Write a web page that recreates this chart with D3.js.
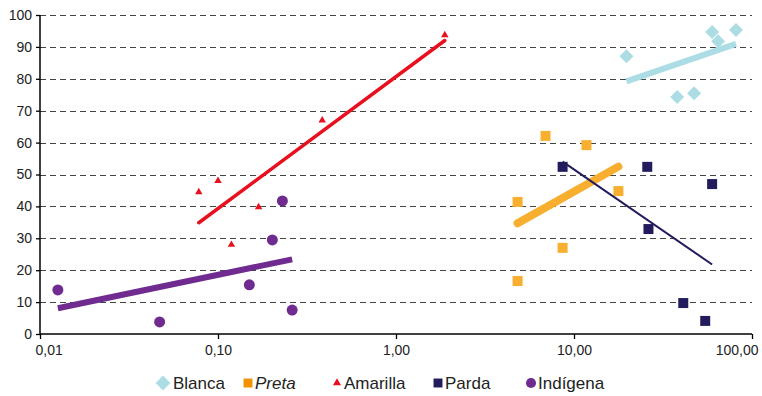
<!DOCTYPE html>
<html>
<head>
<meta charset="utf-8">
<script src="https://d3js.org/d3.v7.min.js"></script>
<style>
  body { margin: 0; background: #fff; }
  text { font-family: "Liberation Sans", Arial, sans-serif; fill: #222; }
</style>
</head>
<body>
<div id="chart"></div>
<script>
// Width and height of the canvas
var w = 762, h = 396;
var margin = {top: 15, right: 10, bottom: 62, left: 40};
var width = w - margin.left - margin.right;
var height = h - margin.top - margin.bottom;

// data: x on log scale, y in percent
var blancaX = [19.7, 38.0, 47.3, 59.7, 64.5, 81.3];
var blancaY = [87.1, 74.3, 75.5, 94.7, 91.8, 95.3];
var pretaX = [4.82, 4.82, 6.92, 8.63, 11.75, 17.76];
var pretaY = [41.4, 16.6, 62.1, 27.0, 59.2, 44.8];
var amarillaX = [0.078, 0.100, 0.119, 0.169, 0.385, 1.88];
var amarillaY = [44.5, 48.0, 28.0, 39.8, 67.0, 93.7];
var pardaX = [8.63, 25.8, 26.2, 59.7, 41.1, 54.6];
var pardaY = [52.4, 52.4, 32.9, 47.0, 9.7, 4.1];
var indigenaX = [0.0126, 0.047, 0.150, 0.202, 0.230, 0.261];
var indigenaY = [13.8, 3.8, 15.4, 29.5, 41.7, 7.5];

var xTicks = [0.01, 0.1, 1, 10, 100];
var yTicks = [0, 10, 20, 30, 40, 50, 60, 70, 80, 90, 100];

var series = [
  {name: "Blanca", xs: blancaX, ys: blancaY, color: "#acdde5", legendColor: "#acdde5", symbol: d3.symbolSquare, rot: 45, size: 98, lw: 6, cap: "butt", italic: false},
  {name: "Preta", xs: pretaX, ys: pretaY, color: "#f8ae2f", legendColor: "#f39200", symbol: d3.symbolSquare, rot: 0, size: 100, lw: 8, cap: "round", italic: true},
  {name: "Amarilla", xs: amarillaX, ys: amarillaY, color: "#e8101e", legendColor: "#e8101e", symbol: d3.symbolTriangle, rot: 0, size: 24, lw: 3.5, cap: "round", italic: false},
  {name: "Parda", xs: pardaX, ys: pardaY, color: "#221c5e", legendColor: "#221c5e", symbol: d3.symbolSquare, rot: 0, size: 100, lw: 2, cap: "butt", italic: false},
  {name: "Indígena", xs: indigenaX, ys: indigenaY, color: "#6f2b8f", legendColor: "#6f2b8f", symbol: d3.symbolCircle, rot: 0, size: 95, lw: 6, cap: "butt", italic: false}
];

var xScale = d3.scaleLog().domain([0.01, 100]).range([0, width]);
var yScale = d3.scaleLinear().domain([0, 100]).range([height, 0]);

var svg = d3.select("#chart")
            .append("svg")
            .attr("width", w)
            .attr("height", h)
            .append("g")
            .attr("transform", "translate(" + margin.left + "," + margin.top + ")");

// gridlines
svg.selectAll("line.grid")
    .data(yTicks.slice(1))
    .enter()
    .append("line")
    .attr("class", "grid")
    .attr("x1", 0)
    .attr("x2", width)
    .attr("y1", function(d) { return Math.round(yScale(d)) + 0.5; })
    .attr("y2", function(d) { return Math.round(yScale(d)) + 0.5; })
    .style("stroke", "#444")
    .style("stroke-width", 1)
    .style("stroke-dasharray", "6,4");

// axes
var fmt = function(d) { return d3.format(".2f")(d).replace(".", ","); };
var xAxis = d3.axisBottom(xScale).tickValues(xTicks).tickFormat(fmt).tickSize(5).tickPadding(6);
var yAxis = d3.axisLeft(yScale).tickValues(yTicks).tickSize(4).tickPadding(4);

var gx = svg.append("g").attr("class", "x axis")
    .attr("transform", "translate(0," + height + ")")
    .call(xAxis);
var gy = svg.append("g").attr("class", "y axis").call(yAxis);
[gx, gy].forEach(function(g) {
  g.select(".domain").style("stroke", "#000").style("stroke-width", 1.5);
  g.selectAll(".tick line").style("stroke", "#000").style("stroke-width", 1.3);
  g.selectAll(".tick text").style("font-size", "14px").style("fill", "#222")
    .style("font-family", "'Liberation Sans', Arial, sans-serif");
});
gy.select(".domain").attr("d", "M0," + height + "V0");
gx.select(".domain").attr("d", "M0,0H" + width);
// first and last x labels kept inside the chart
gx.selectAll(".tick text")
    .filter(function(d) { return d === xTicks[0]; })
    .attr("text-anchor", "start").attr("x", -5);
gx.selectAll(".tick text")
    .filter(function(d) { return d === xTicks[xTicks.length - 1]; })
    .attr("text-anchor", "end").attr("x", 6);

// logarithmic trendline (least squares on log10 x)
function trend(s) {
  var lx = s.xs.map(function(v) { return Math.log10(v); });
  var mx = d3.mean(lx), my = d3.mean(s.ys);
  var sxy = d3.sum(lx, function(v, i) { return (v - mx) * (s.ys[i] - my); });
  var sxx = d3.sum(lx, function(v) { return (v - mx) * (v - mx); });
  var b = sxy / sxx, a = my - b * mx;
  var x0 = d3.min(s.xs), x1 = d3.max(s.xs);
  return [[x0, a + b * Math.log10(x0)], [x1, a + b * Math.log10(x1)]];
}

// points
series.forEach(function(s) {
  var pts = s.xs.map(function(v, i) { return [v, s.ys[i]]; });
  svg.append("g").selectAll("path")
      .data(pts)
      .enter()
      .append("path")
      .attr("transform", function(d) { return "translate(" + xScale(d[0]) + "," + yScale(d[1]) + ") rotate(" + s.rot + ")"; })
      .attr("d", d3.symbol().type(s.symbol).size(s.size))
      .style("fill", s.color);
});

// trend lines
series.forEach(function(s) {
  svg.append("path")
      .datum(trend(s))
      .attr("d", d3.line().x(function(d) { return xScale(d[0]); }).y(function(d) { return yScale(d[1]); }))
      .style("fill", "none")
      .style("stroke", s.color)
      .style("stroke-width", s.lw)
      .style("stroke-linecap", s.cap);
});

// legend
var legendX = [163, 248, 337, 438, 531];
var legend = svg.append("g").attr("transform", "translate(" + (-margin.left) + "," + (383 - margin.top) + ")");
series.forEach(function(s, i) {
  var g = legend.append("g").attr("transform", "translate(" + legendX[i] + ",0)");
  var sz = s.symbol === d3.symbolTriangle ? 28 : (s.rot ? 110 : 80);
  g.append("path")
      .attr("transform", "rotate(" + s.rot + ")")
      .attr("d", d3.symbol().type(s.symbol).size(sz))
      .style("fill", s.legendColor);
  g.append("text")
      .attr("x", s.rot ? 10 : 7)
      .attr("y", 6)
      .style("font-size", "17px")
      .style("font-style", s.italic ? "italic" : "normal")
      .text(s.name);
});
</script>
</body>
</html>
